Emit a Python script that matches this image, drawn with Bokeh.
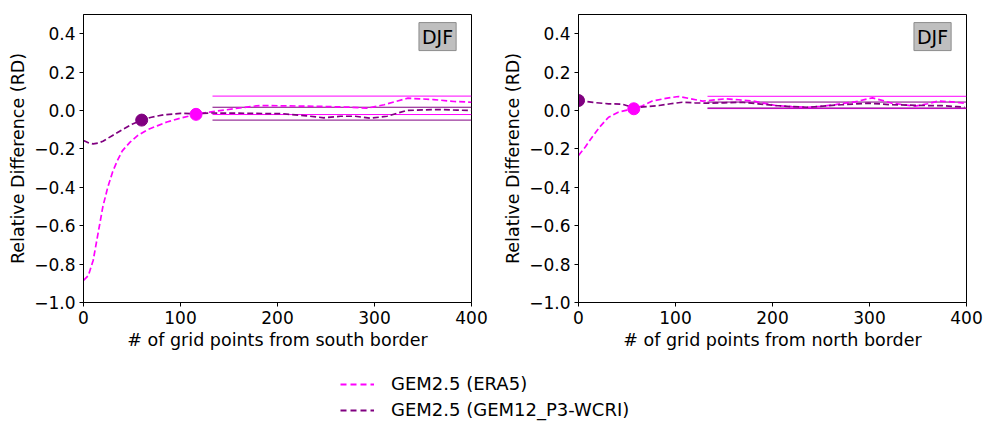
from bokeh.plotting import figure
from bokeh.models import FixedTicker, Label, Legend, LegendItem, Range1d
from bokeh.layouts import column, row
from bokeh.embed import file_html
from bokeh.resources import INLINE

# ---------------- data ----------------
MAG = "#ff00ff"
PUR = "#800080"

# south border (left panel)
s_era5_x = [0, 5, 10, 15, 20, 25, 30, 35, 40, 48, 56, 66, 76, 86, 100, 116, 130, 155, 172, 182,
            210, 240, 275, 292, 310, 334, 361, 382, 400]
s_era5_y = [-0.885, -0.86, -0.78, -0.64, -0.50, -0.40, -0.32, -0.26, -0.21, -0.165, -0.13, -0.10,
            -0.08, -0.06, -0.04, -0.02, -0.008, 0.009, 0.020, 0.026, 0.024, 0.022, 0.017, 0.012,
            0.030, 0.064, 0.057, 0.047, 0.043]
s_gem12_x = [0, 5, 10, 15, 20, 30, 40, 50, 60, 70, 83, 100, 116, 130, 160, 206, 230, 248, 265,
             280, 296, 313, 333, 350, 367, 385, 400]
s_gem12_y = [-0.156, -0.168, -0.174, -0.170, -0.160, -0.130, -0.100, -0.072, -0.050, -0.035,
             -0.022, -0.015, -0.017, -0.013, -0.014, -0.017, -0.028, -0.038, -0.030, -0.030,
             -0.040, -0.030, 0.000, 0.003, 0.005, 0.002, 0.000]
s_dot_era5 = (116, -0.020)
s_dot_gem12 = (60, -0.050)
s_band_era5 = [0.075, -0.021]
s_band_gem12 = [0.017, -0.050]

# north border (right panel)
n_era5_x = [0, 7, 14, 22, 31, 41, 50, 58, 66, 76, 90, 103, 115, 128, 140, 152, 165, 180, 203,
            220, 237, 250, 265, 285, 303, 315, 323, 335, 347, 360, 371, 385, 398]
n_era5_y = [-0.234, -0.19, -0.139, -0.085, -0.035, -0.009, 0.002, 0.009, 0.025, 0.049, 0.063,
            0.073, 0.062, 0.049, 0.055, 0.061, 0.056, 0.049, 0.026, 0.020, 0.017, 0.022, 0.031,
            0.045, 0.066, 0.050, 0.038, 0.030, 0.023, 0.035, 0.049, 0.045, 0.038]
n_gem12_x = [0, 15, 31, 45, 57, 70, 83, 95, 107, 120, 134, 150, 169, 185, 203, 220, 237, 255,
             271, 285, 299, 311, 323, 340, 358, 375, 390, 398]
n_gem12_y = [0.052, 0.042, 0.035, 0.033, 0.014, 0.020, 0.026, 0.035, 0.043, 0.040, 0.038, 0.040,
             0.043, 0.035, 0.026, 0.020, 0.017, 0.024, 0.030, 0.034, 0.038, 0.034, 0.030, 0.028,
             0.026, 0.025, 0.020, 0.017]
n_dot_era5 = (57, 0.009)
n_dot_gem12 = (0, 0.052)
n_band_era5 = [0.074, 0.010]
n_band_gem12 = [0.044, 0.013]

band_start = 133
band_end = 400

y_ticks = [-1.0, -0.8, -0.6, -0.4, -0.2, 0.0, 0.2, 0.4]
y_tick_labels = ["\u22121.0", "\u22120.8", "\u22120.6", "\u22120.4", "\u22120.2", "0.0", "0.2", "0.4"]
x_ticks = [0, 100, 200, 300, 400]
season = "DJF"
series_names = ["GEM2.5 (ERA5)", "GEM2.5 (GEM12_P3-WCRI)"]

FONT = "DejaVu Sans"


def make_panel(xlabel, era_x, era_y, gem_x, gem_y, dot_era, dot_gem, band_era, band_gem,
               width, border_left, border_right):
    p = figure(width=width, height=356, output_backend="svg", toolbar_location=None,
               x_range=Range1d(0, 400), y_range=Range1d(-1.0, 0.5),
               min_border_left=border_left, min_border_right=border_right,
               min_border_top=14, min_border_bottom=54)
    p.grid.visible = False
    p.outline_line_color = "black"
    p.outline_line_width = 1
    p.background_fill_color = "white"
    p.border_fill_color = "white"

    p.yaxis.ticker = FixedTicker(ticks=y_ticks)
    p.yaxis.major_label_overrides = {t: l for t, l in zip(y_ticks, y_tick_labels)}
    p.xaxis.ticker = FixedTicker(ticks=x_ticks)
    for ax in (p.xaxis, p.yaxis):
        ax.minor_tick_line_color = None
        ax.major_tick_in = 0
        ax.major_tick_out = 4
        ax.major_tick_line_color = "black"
        ax.axis_line_color = "black"
        ax.major_label_text_font = FONT
        ax.major_label_text_font_size = "17px"
        ax.major_label_text_color = "black"
        ax.axis_label_text_font = FONT
        ax.axis_label_text_font_size = "17.5px"
        ax.axis_label_text_font_style = "normal"
        ax.axis_label_text_color = "black"
    p.xaxis.axis_label = xlabel
    p.yaxis.axis_label = "Relative Difference (RD)"
    p.xaxis.major_label_standoff = 4
    p.yaxis.major_label_standoff = 4
    p.xaxis.axis_label_standoff = 3
    p.yaxis.axis_label_standoff = 3

    # mean +/- std bands
    for yv in band_era:
        p.segment(x0=band_start, x1=band_end, y0=yv, y1=yv, line_color=MAG, line_width=1)
    for yv in band_gem:
        p.segment(x0=band_start, x1=band_end, y0=yv, y1=yv, line_color=PUR, line_width=1)

    p.line(era_x, era_y, line_color=MAG, line_width=1.7, line_dash="6 3")
    p.line(gem_x, gem_y, line_color=PUR, line_width=1.7, line_dash="6 3")
    p.scatter([dot_gem[0]], [dot_gem[1]], size=12, fill_color=PUR, line_color=PUR)
    p.scatter([dot_era[0]], [dot_era[1]], size=12, fill_color=MAG, line_color=MAG)

    lab = Label(x=365, y=0.385, text=season, text_align="center", text_baseline="middle",
                text_font=FONT, text_font_size="19px", text_color="black",
                background_fill_color="#bfbfbf", border_line_color="#8c8c8c",
                border_line_width=1, padding=3)
    p.add_layout(lab)
    return p


p1 = make_panel("# of grid points from south border", s_era5_x, s_era5_y, s_gem12_x, s_gem12_y,
                s_dot_era5, s_dot_gem12, s_band_era5, s_band_gem12, 491, 83, 20)
p2 = make_panel("# of grid points from north border", n_era5_x, n_era5_y, n_gem12_x, n_gem12_y,
                n_dot_era5, n_dot_gem12, n_band_era5, n_band_gem12, 492, 87, 17)

# legend panel
pl = figure(width=983, height=70, output_backend="svg", toolbar_location=None,
            x_range=Range1d(0, 1), y_range=Range1d(0, 1),
            min_border_left=0, min_border_right=0, min_border_top=0, min_border_bottom=0)
pl.axis.visible = False
pl.grid.visible = False
pl.outline_line_color = None
r1 = pl.line([5, 6], [5, 6], line_color=MAG, line_width=2, line_dash="6 4")
r2 = pl.line([5, 6], [5, 6], line_color=PUR, line_width=2, line_dash="6 4")
leg = Legend(items=[LegendItem(label=series_names[0], renderers=[r1]),
                    LegendItem(label=series_names[1], renderers=[r2])],
             location=(340, 6), orientation="vertical", glyph_width=34, glyph_height=20,
             label_height=20, label_standoff=17, spacing=5, padding=0, margin=0,
             border_line_color=None, background_fill_alpha=0,
             label_text_font=FONT, label_text_font_size="18px", label_text_color="black")
pl.add_layout(leg)

layout = column(row(p1, p2), pl)
open("out.html", "w").write(file_html(layout, INLINE))
